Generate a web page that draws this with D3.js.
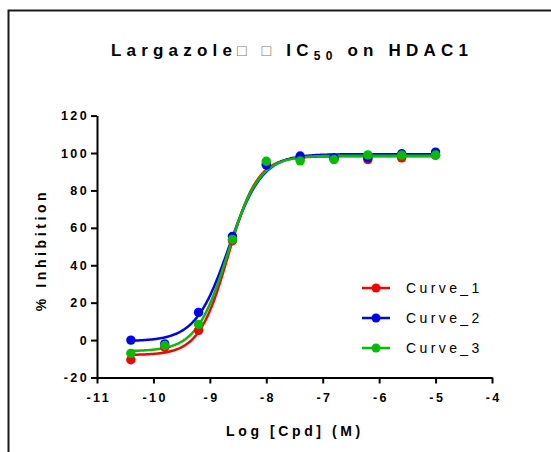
<!DOCTYPE html>
<html><head><meta charset="utf-8">
<script src="https://cdn.jsdelivr.net/npm/d3@7"></script>
<style>
html,body{margin:0;padding:0;background:#fff;}
svg{display:block;font-family:"Liberation Sans",Arial,sans-serif;}
</style></head>
<body><svg id="c" width="551" height="452"></svg>
<script>
// ---- data ----
const logConc = [-10.4, -9.8, -9.2, -8.6, -8.0, -7.4, -6.8, -6.2, -5.6, -5.0];
const curve1 = [-10.5, -3.8, 5.2, 53.1, 94.2, 97.0, 97.0, 96.5, 97.4, 98.8];
const curve2 = [0.0, -2.0, 14.8, 55.4, 93.6, 98.4, 97.4, 97.4, 99.6, 100.5];
const curve3 = [-7.1, -2.9, 8.4, 53.8, 95.6, 95.8, 96.5, 99.0, 98.8, 98.9];
const seriesNames = ["Curve_1", "Curve_2", "Curve_3"];
const seriesColors = ["#ff0000", "#0000ff", "#00c000"];
// fitted 4-parameter logistic parameters: bottom, top, logIC50, hill
const fitBottom = [-8.0, -0.6, -6.0];
const fitTop = [98.3, 99.4, 98.6];
const fitLogIC50 = [-8.676, -8.665, -8.683];
const fitHill = [1.68, 1.48, 1.57];
const xTicks = [-11, -10, -9, -8, -7, -6, -5, -4];
const yTicks = [-20, 0, 20, 40, 60, 80, 100, 120];

const svg = d3.select("#c");
const x = d3.scaleLinear().domain([-11, -4]).range([97, 492]);
const y = d3.scaleLinear().domain([-20, 120]).range([377.5, 115.6]);

// frame
svg.append("rect").attr("x", 8.5).attr("y", 10.5).attr("width", 700).attr("height", 700)
  .attr("fill", "none").attr("stroke", "#1a1a1a").attr("stroke-width", 2);

// axes
const xAxis = svg.append("g").attr("transform", `translate(0,${y(-20)})`)
  .call(d3.axisBottom(x).tickValues(xTicks).tickSize(6).tickSizeOuter(0).tickPadding(10).tickFormat(d3.format("d")));
const yAxis = svg.append("g").attr("transform", `translate(${x(-11)},0)`)
  .call(d3.axisLeft(y).tickValues(yTicks).tickSize(6).tickSizeOuter(0).tickPadding(5).tickFormat(d3.format("d")));
[xAxis, yAxis].forEach(a => {
  a.select(".domain").attr("stroke", "#000").attr("stroke-width", 2);
  a.selectAll(".tick line").attr("stroke", "#000").attr("stroke-width", 2);
  a.selectAll(".tick text").attr("fill", "#000").style("font-size", "12.5px")
    .style("font-weight", "bold").style("letter-spacing", "2.4px")
    .style("font-family", "'Liberation Sans',Arial,sans-serif");
});
xAxis.selectAll(".tick text").text(d => d < 0 ? "-" + Math.abs(d) : d).attr("dx", 1.2);
yAxis.selectAll(".tick text").text(d => d < 0 ? "-" + Math.abs(d) : d).attr("dx", 3);

// title
const title = svg.append("text").attr("x", 292).attr("y", 56).attr("text-anchor", "middle")
  .style("font-size", "17px").style("font-weight", "bold").style("letter-spacing", "5.2px");
title.append("tspan").text("Largazole");
title.append("tspan").text("□ □").attr("fill", "#777").style("font-weight", "normal").style("font-size", "16px");
title.append("tspan").text(" IC");
title.append("tspan").text("50").attr("dy", 4).style("font-size", "12px");
title.append("tspan").text(" on HDAC1").attr("dy", -4);

// axis labels
svg.append("text").attr("x", 295).attr("y", 436).attr("text-anchor", "middle")
  .style("font-size", "14px").style("font-weight", "bold").style("letter-spacing", "3.6px")
  .text("Log [Cpd] (M)");
svg.append("text").attr("transform", "translate(46,250) rotate(-90)").attr("text-anchor", "middle")
  .style("font-size", "14px").style("font-weight", "bold").style("letter-spacing", "3.6px")
  .text("% Inhibition");

// curves and points
const allData = [curve1, curve2, curve3];
const line = d3.line().x(d => x(d[0])).y(d => y(d[1])).curve(d3.curveLinear);
const xs = d3.range(0, 301).map(i => logConc[0] + (logConc[logConc.length - 1] - logConc[0]) * i / 300);
allData.forEach((vals, s) => {
  const f = v => fitBottom[s] + (fitTop[s] - fitBottom[s]) / (1 + Math.pow(10, (fitLogIC50[s] - v) * fitHill[s]));
  svg.append("path").datum(xs.map(v => [v, f(v)])).attr("d", line)
    .attr("fill", "none").attr("stroke", seriesColors[s]).attr("stroke-width", 2.5);
});
allData.forEach((vals, s) => {
  svg.append("g").selectAll("circle").data(vals).join("circle")
    .attr("cx", (d, i) => x(logConc[i])).attr("cy", d => y(d)).attr("r", 4.7)
    .attr("fill", seriesColors[s]);
});

// legend
const lg = svg.append("g");
seriesNames.forEach((n, i) => {
  const yy = 288 + i * 30;
  lg.append("line").attr("x1", 362).attr("x2", 390).attr("y1", yy).attr("y2", yy)
    .attr("stroke", seriesColors[i]).attr("stroke-width", 2.5);
  lg.append("circle").attr("cx", 376).attr("cy", yy).attr("r", 4.5).attr("fill", seriesColors[i]);
  lg.append("text").attr("x", 406).attr("y", yy + 5).style("font-size", "14px")
    .style("letter-spacing", "3.4px").text(n);
});
</script></body></html>
